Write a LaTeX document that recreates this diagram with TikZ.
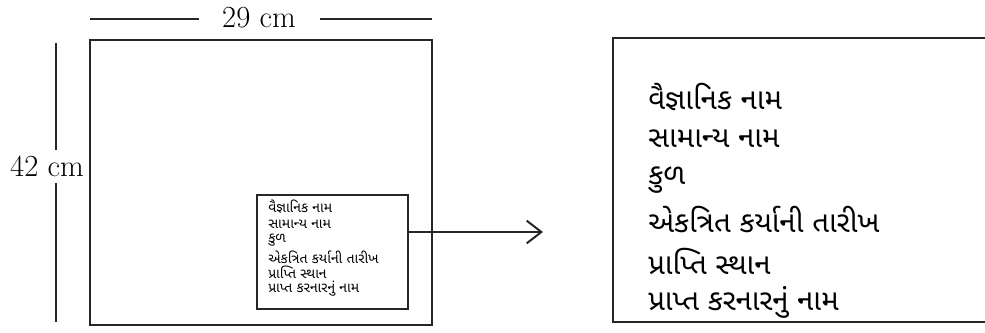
\documentclass[tikz,border=0pt]{standalone}
\usepackage{fontspec}
\newfontfamily\guj[Script=Gujarati]{Noto Sans Gujarati UI}
\usetikzlibrary{arrows.meta}
\begin{document}
\begin{tikzpicture}[x=0.75pt,y=-0.75pt,
  ln/.style={line width=1.5pt,black!85},
  dimtxt/.style={font=\fontsize{23}{26}\selectfont,inner sep=0pt},
  bigtxt/.style={font=\guj\fontsize{22}{26}\selectfont,anchor=west,inner sep=0pt},
  smalltxt/.style={font=\guj\fontsize{10.5}{12}\selectfont,anchor=west,inner sep=0pt}]
\useasboundingbox (0,0) rectangle (985,332);
% dimension top
\node[dimtxt] (w) at (259,18) {29 cm};
\coordinate (wl1) at (90,19); \coordinate (wl2) at (199,19);
\coordinate (wr1) at (320,19); \coordinate (wr2) at (432,19);
\draw[ln] (wl1) -- (wl2);
\draw[ln] (wr1) -- (wr2);
% dimension left
\node[dimtxt] (h) at (47,166) {42 cm};
\coordinate (ht1) at (56,43); \coordinate (ht2) at (56,150);
\coordinate (hb1) at (56,183); \coordinate (hb2) at (56,322);
\draw[ln] (ht1) -- (ht2);
\draw[ln] (hb1) -- (hb2);
% sheet
\draw[ln] (90,40) rectangle (432,325);
% label box
\node[ln,draw,minimum width=151*0.75pt,minimum height=114*0.75pt,inner sep=0pt] (lab) at (332.5,252) {};
\node[smalltxt] (s1) at (268,207) {વૈજ્ઞાનિક નામ};
\node[smalltxt] (s2) at (268,224) {સામાન્ય નામ};
\node[smalltxt] (s3) at (268,240) {કુળ};
\node[smalltxt] (s4) at (268,257) {એકત્રિત કર્યાની તારીખ};
\node[smalltxt] (s5) at (268,272) {પ્રાપ્તિ સ્થાન};
\node[smalltxt] (s6) at (268,289) {પ્રાપ્ત કરનારનું નામ};
% arrow
\coordinate (ae) at (543,232);
\draw[ln,-{Straight Barb[length=11pt,width=17pt,line width=1.5pt]}] (lab.east |- ae) -- (ae);
% enlarged label
\coordinate (r1) at (985,38); \coordinate (r2) at (613,38);
\coordinate (r3) at (613,322); \coordinate (r4) at (985,322);
\draw[ln] (r1) -- (r2) -- (r3) -- (r4);
\node[bigtxt] (b1) at (648,97) {વૈજ્ઞાનિક નામ};
\node[bigtxt] (b2) at (648,139) {સામાન્ય નામ};
\node[bigtxt] (b3) at (648,180) {કુળ};
\node[bigtxt] (b4) at (648,220) {એકત્રિત કર્યાની તારીખ};
\node[bigtxt] (b5) at (648,261) {પ્રાપ્તિ સ્થાન};
\node[bigtxt] (b6) at (648,302) {પ્રાપ્ત કરનારનું નામ};
\end{tikzpicture}
\end{document}
